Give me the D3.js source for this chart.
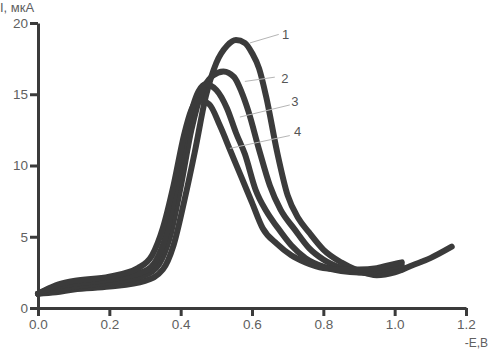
<!DOCTYPE html>
<html>
<head>
<meta charset="utf-8">
<script src="https://cdn.jsdelivr.net/npm/d3@7"></script>
<style>
  body { margin: 0; background: #fff; }
  svg { display: block; font-family: "Liberation Sans", Arial, sans-serif; }
</style>
</head>
<body>
<svg id="chart"></svg>
<script>
// potentials (-E, V) and currents (I, uA) for the four polarograms
const potentials1 = [0.00, 0.05, 0.10, 0.20, 0.30, 0.35, 0.38, 0.41, 0.44, 0.47, 0.50, 0.53, 0.555, 0.58, 0.60, 0.62, 0.64, 0.67, 0.70, 0.73, 0.76, 0.80, 0.85, 0.90, 0.95, 1.00, 1.05, 1.10, 1.16];
const current1    = [1.0, 1.1, 1.3, 1.5, 1.9, 2.7, 4.4, 7.5, 11.0, 14.8, 17.2, 18.4, 18.8, 18.6, 17.9, 16.8, 14.8, 11.0, 7.9, 6.3, 5.3, 4.1, 3.2, 2.6, 2.3, 2.5, 3.0, 3.5, 4.3];

const potentials2 = [0.00, 0.05, 0.10, 0.20, 0.30, 0.34, 0.37, 0.40, 0.43, 0.46, 0.49, 0.52, 0.55, 0.57, 0.59, 0.62, 0.65, 0.68, 0.72, 0.76, 0.80, 0.85, 0.90, 0.95, 1.00, 1.02];
const current2    = [1.0, 1.3, 1.5, 1.8, 2.3, 3.1, 5.0, 8.5, 12.5, 15.2, 16.3, 16.6, 16.2, 15.2, 13.8, 11.1, 8.6, 6.9, 5.5, 4.2, 3.4, 2.8, 2.5, 2.4, 2.6, 2.7];

const potentials3 = [0.00, 0.05, 0.10, 0.20, 0.30, 0.33, 0.36, 0.39, 0.42, 0.45, 0.47, 0.50, 0.53, 0.555, 0.58, 0.61, 0.64, 0.67, 0.71, 0.75, 0.80, 0.85, 0.90, 0.95, 1.00, 1.02];
const current3    = [1.0, 1.5, 1.7, 2.0, 2.6, 3.3, 5.2, 8.8, 12.8, 15.2, 15.7, 15.3, 14.0, 12.3, 10.8, 8.3, 6.8, 5.7, 4.4, 3.5, 2.9, 2.6, 2.5, 2.6, 2.9, 3.0];

const potentials4 = [0.00, 0.05, 0.10, 0.20, 0.28, 0.32, 0.35, 0.38, 0.41, 0.43, 0.45, 0.48, 0.51, 0.54, 0.57, 0.60, 0.63, 0.67, 0.71, 0.75, 0.80, 0.85, 0.90, 0.95, 1.00, 1.02];
const current4    = [1.0, 1.6, 1.9, 2.2, 2.8, 3.7, 5.6, 8.6, 12.2, 13.9, 14.6, 14.3, 12.8, 11.0, 9.2, 7.4, 5.6, 4.5, 3.7, 3.2, 2.8, 2.7, 2.7, 2.8, 3.1, 3.2];

const curveNames = ['1', '2', '3', '4'];
// leader lines: start on the curve, end near the label (data units)
const leaderStartE = [0.594, 0.580, 0.566, 0.538];
const leaderStartI = [18.6, 15.9, 13.4, 11.2];
const leaderEndE   = [0.675, 0.664, 0.706, 0.706];
const leaderEndI   = [19.2, 16.2, 14.25, 12.1];
const labelE       = [0.694, 0.692, 0.720, 0.728];
const labelI       = [19.2, 16.1, 14.5, 12.4];

const xTicks = [0, 0.2, 0.4, 0.6, 0.8, 1.0, 1.2];
const yTicks = [0, 5, 10, 15, 20];

const W = 488, H = 353;
const margin = { top: 23, right: 22, bottom: 45, left: 38 };

const svg = d3.select('#chart')
    .attr('width', W)
    .attr('height', H);

const x = d3.scaleLinear().domain([0, 1.2]).range([margin.left, W - margin.right]);
const y = d3.scaleLinear().domain([0, 20]).range([H - margin.bottom, margin.top]);

const series = [
    [potentials1, current1],
    [potentials2, current2],
    [potentials3, current3],
    [potentials4, current4]
].map(([es, is]) => es.map((e, i) => ({ e: e, i: is[i] })));

const line = d3.line()
    .x(d => x(d.e))
    .y(d => y(d.i))
    .curve(d3.curveMonotoneX);

svg.append('g')
    .selectAll('path')
    .data(series)
    .join('path')
    .attr('fill', 'none')
    .attr('stroke', '#3b3b3b')
    .attr('stroke-width', 6)
    .attr('stroke-linecap', 'round')
    .attr('stroke-linejoin', 'round')
    .attr('d', line);

// leaders and labels
const leaders = svg.append('g');
curveNames.forEach((name, k) => {
    leaders.append('line')
        .attr('x1', x(leaderStartE[k]))
        .attr('y1', y(leaderStartI[k]))
        .attr('x2', x(leaderEndE[k]))
        .attr('y2', y(leaderEndI[k]))
        .attr('stroke', '#b5b5b5')
        .attr('stroke-width', 1);
    leaders.append('text')
        .attr('x', x(labelE[k]))
        .attr('y', y(labelI[k]))
        .attr('dy', '0.36em')
        .attr('text-anchor', 'middle')
        .attr('fill', '#555')
        .style('font-size', '13px')
        .text(name);
});

// axes
const xAxis = d3.axisBottom(x)
    .tickValues(xTicks)
    .tickFormat(d3.format('.1f'))
    .tickSize(8)
    .tickSizeOuter(0)
    .tickPadding(3);

const yAxis = d3.axisLeft(y)
    .tickValues(yTicks)
    .tickSize(8)
    .tickSizeOuter(0)
    .tickPadding(2);

const gx = svg.append('g')
    .attr('transform', `translate(0,${y(0)})`)
    .call(xAxis);

const gy = svg.append('g')
    .attr('transform', `translate(${x(0)},0)`)
    .call(yAxis);

[gx, gy].forEach(g => {
    g.select('.domain').attr('stroke', '#3b3b3b').attr('stroke-width', 3);
    g.selectAll('.tick line').attr('stroke', '#3b3b3b').attr('stroke-width', 3);
    g.selectAll('.tick text')
        .attr('fill', '#606060')
        .style('font-size', '13.5px')
        .style('font-family', '"Liberation Sans", Arial, sans-serif');
});

svg.append('text')
    .attr('x', 0)
    .attr('y', 12)
    .attr('fill', '#606060')
    .style('font-size', '13px')
    .text('I, мкА');

svg.append('text')
    .attr('x', W)
    .attr('y', 347)
    .attr('text-anchor', 'end')
    .attr('fill', '#606060')
    .style('font-size', '12px')
    .text('-E,B');
</script>
</body>
</html>
